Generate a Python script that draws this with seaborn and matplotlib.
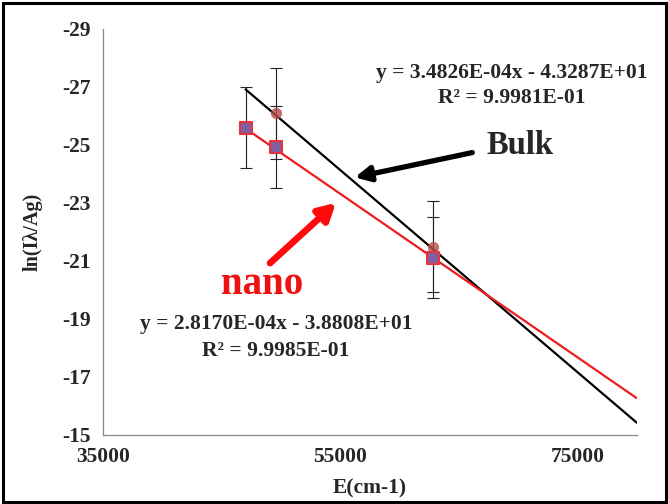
import numpy as np
import pandas as pd
import matplotlib
matplotlib.use("Agg")
import matplotlib.pyplot as plt
import seaborn as sns
from matplotlib.patches import Rectangle

# ---- data ----
energy = [47000, 49600, 62800]
nano_ln = [-25.60, -24.93, -21.12]
nano_err = [1.40, 1.40, 1.40]
bulk_energy = [49600, 62800]
bulk_ln = [-26.09, -21.49]
bulk_err = [1.57, 1.57]
bulk_fit = [3.4826E-04, -4.3287E+01]
nano_fit = [2.8170E-04, -3.8808E+01]
fit_range = [47000, 80000]
x_ticks = [35000, 55000, 75000]
y_ticks = [-29, -27, -25, -23, -21, -19, -17, -15]
bulk_eq = ["y = 3.4826E-04x - 4.3287E+01", "R² = 9.9981E-01"]
nano_eq = ["y = 2.8170E-04x - 3.8808E+01", "R² = 9.9985E-01"]

sns.set_style("white")
plt.rcParams["font.family"] = ["Liberation Serif", "DejaVu Serif"]
plt.rcParams["font.weight"] = "bold"

W, H = 668, 504
fig = plt.figure(figsize=(W / 100, H / 100), dpi=100)
L, R, T, B = 103.3, 636.7, 29, 435
ax = fig.add_axes([L / W, 1 - B / H, (R - L) / W, (B - T) / H])

fx = np.array(fit_range, dtype=float)
fits = pd.DataFrame({
    "x": np.concatenate([fx, fx]),
    "y": np.concatenate([bulk_fit[0] * fx + bulk_fit[1], nano_fit[0] * fx + nano_fit[1]]),
    "s": ["bulk", "bulk", "nano", "nano"],
})
sns.lineplot(data=fits, x="x", y="y", hue="s", palette={"bulk": "black", "nano": "#ee1c1c"},
             legend=False, ax=ax, linewidth=1.6, zorder=3)

ax.errorbar(bulk_energy, bulk_ln, yerr=bulk_err, fmt="none", ecolor="#222222",
            elinewidth=0.8, capsize=4, capthick=0.8, zorder=2)
ax.errorbar(energy, nano_ln, yerr=nano_err, fmt="none", ecolor="#222222",
            elinewidth=0.8, capsize=4, capthick=0.8, zorder=2)

sns.scatterplot(x=bulk_energy, y=bulk_ln, marker="o", s=55, color="#b5504e",
                edgecolor="#c0504d", alpha=0.8, ax=ax, zorder=4)
sns.scatterplot(x=energy, y=nano_ln, marker="s", s=75, color="#7f5f9f",
                edgecolor="#e8323c", linewidth=1.5, ax=ax, zorder=5)

ax.set_xlim(35000, 80000)
ax.set_ylim(-15, -29)
ax.set_xticks(x_ticks)
ax.set_xticks(np.arange(35000, 80001, 1000), minor=True)
ax.set_yticks(y_ticks)
ax.set_xticklabels([str(v) for v in x_ticks], fontsize=15.5, fontweight="bold")
ax.set_yticklabels([str(v) for v in y_ticks], fontsize=15.5, fontweight="bold")
ax.tick_params(axis="x", which="major", direction="out", length=5, width=0.8, color="#777777", pad=4)
ax.tick_params(axis="x", which="minor", direction="out", length=3.5, width=0.8, color="#777777")
ax.tick_params(axis="y", which="major", direction="out", length=5, width=0.8, color="#777777", pad=4)
for s in ["top", "right"]:
    ax.spines[s].set_visible(False)
for s in ["left", "bottom"]:
    ax.spines[s].set_color("#888888")
    ax.spines[s].set_linewidth(0.9)
ax.set_xlabel("E(cm-1)", fontsize=15.5, fontweight="bold", labelpad=8)
ax.set_ylabel("ln(Iλ/Ag)", fontsize=14.5, fontweight="bold", labelpad=14)


def px2data(px, py):
    return (35000 + (px - L) / (R - L) * 45000, -29 + (py - T) / (B - T) * 14)


# annotations (equations & labels)
fig.text(512 / W, 1 - 73 / H, bulk_eq[0], ha="center", va="center", fontsize=15.5, fontweight="bold")
fig.text(512 / W, 1 - 98 / H, bulk_eq[1], ha="center", va="center", fontsize=15.5, fontweight="bold")
fig.text(276 / W, 1 - 324 / H, nano_eq[0], ha="center", va="center", fontsize=15.5, fontweight="bold")
fig.text(276 / W, 1 - 351 / H, nano_eq[1], ha="center", va="center", fontsize=15.5, fontweight="bold")
fig.text(520 / W, 1 - 145 / H, "Bulk", ha="center", va="center", fontsize=23.5, fontweight="bold")
fig.text(262 / W, 1 - 285 / H, "nano", ha="center", va="center", fontsize=28, fontweight="bold",
         color="#ee1111")

ax.annotate("", xy=px2data(352, 178), xytext=px2data(475, 152),
            arrowprops=dict(arrowstyle="-|>,head_length=0.9,head_width=0.45", color="black", lw=3.8),
            zorder=6)
ax.annotate("", xy=px2data(338, 201), xytext=px2data(268, 265),
            arrowprops=dict(arrowstyle="-|>,head_length=1.0,head_width=0.55", color="#ff0a0a", lw=4.8),
            zorder=6)

fig.patches.append(Rectangle((2.5 / W, 2.5 / H), 1 - 5 / W, 1 - 5 / H, transform=fig.transFigure,
                             fill=False, lw=2.2, ec="black"))

fig.savefig("out.png", dpi=100)
